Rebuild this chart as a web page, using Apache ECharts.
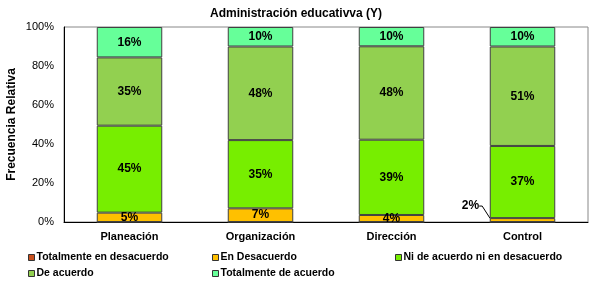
<!DOCTYPE html>
<html>
<head>
<meta charset="utf-8">
<script src="https://cdn.jsdelivr.net/npm/echarts@6/dist/echarts.min.js"></script>
<style>
  html, body { margin: 0; padding: 0; background: #fff; }
  #main { width: 592px; height: 283px; }
</style>
</head>
<body>
<div id="main"></div>
<script>
// categorias y series (porcentajes)
var categorias = ['Planeación', 'Organización', 'Dirección', 'Control'];
var nombres = ['Totalmente en desacuerdo', 'En Desacuerdo', 'Ni de acuerdo ni en desacuerdo', 'De acuerdo', 'Totalmente de acuerdo'];
var totDesacuerdo = [0, 0, 0, 0];
var enDesacuerdo = [4.8, 7, 3.6, 2];
var niNi = [44.6, 35, 38.6, 37];
var deAcuerdo = [35.0, 48, 47.9, 51];
var totAcuerdo = [15.6, 10, 9.9, 10];
var colores = ['#C8501E', '#FFC000', '#77EE00', '#92D050', '#66FF99'];

var chart = echarts.init(document.getElementById('main'));
var fuente = 'Liberation Sans, Arial, sans-serif';

function serie(i, datos) {
  return {
    name: nombres[i],
    type: 'bar',
    stack: 'total',
    barWidth: '50%',
    data: datos,
    itemStyle: { color: colores[i], borderColor: '#404040', borderWidth: 1 },
    label: {
      show: true,
      color: '#000',
      fontWeight: 'bold',
      fontSize: 12,
      fontFamily: fuente,
      formatter: function (p) {
        return p.value > 0 ? Math.round(p.value) + '%' : '';
      }
    }
  };
}

var series = [
  serie(0, totDesacuerdo),
  serie(1, enDesacuerdo),
  serie(2, niNi),
  serie(3, deAcuerdo),
  serie(4, totAcuerdo)
];
// etiqueta del 2% en Control, fuera de la barra con linea guia
series[1].labelLayout = function (p) {
  if (p.dataIndex === 3) return { dx: -52, dy: -14 };
  return {};
};
series[1].labelLine = { show: true, length2: 3, lineStyle: { color: '#000', width: 1 } };

// leyenda en columnas: una leyenda por elemento
var posLeyenda = [[23, 247], [207, 247], [390, 247], [23, 263], [207, 263]];
var leyendas = nombres.map(function (n, i) {
  return {
    data: [n],
    left: posLeyenda[i][0],
    top: posLeyenda[i][1],
    itemWidth: 6,
    itemHeight: 6,
    icon: 'rect',
    itemStyle: { borderColor: '#333', borderWidth: 1 },
    textStyle: { fontSize: 10.5, fontWeight: 'bold', color: '#000', padding: [0, 0, 0, -3] }
  };
});

var option = {
  backgroundColor: '#fff',
  animation: false,
  textStyle: { fontFamily: fuente },
  title: {
    text: 'Administración educativva (Y)',
    left: 'center',
    top: 3,
    textStyle: { fontSize: 12, fontWeight: 'bold', color: '#000', fontFamily: fuente }
  },
  legend: leyendas,
  grid: {
    left: 64,
    right: 4,
    top: 27,
    bottom: 61,
    outerBoundsMode: 'none',
    containLabel: false,
    show: true,
    borderColor: '#888',
    borderWidth: 1
  },
  xAxis: {
    type: 'category',
    data: categorias,
    axisLine: { lineStyle: { color: '#000', width: 1 } },
    axisTick: { show: false },
    axisLabel: { color: '#000', fontWeight: 'bold', fontSize: 11, margin: 9 }
  },
  yAxis: {
    type: 'value',
    min: 0,
    max: 100,
    interval: 20,
    name: 'Frecuencia Relativa',
    nameLocation: 'middle',
    nameGap: 46,
    nameMoveOverlap: false,
    nameTextStyle: { fontSize: 12, fontWeight: 'bold', color: '#000' },
    axisLine: { show: true, lineStyle: { color: '#000', width: 1 } },
    axisTick: { show: false },
    splitLine: { show: false },
    axisLabel: { color: '#000', fontSize: 11, margin: 10, formatter: '{value}%' }
  },
  series: series
};

chart.setOption(option);
</script>
</body>
</html>
